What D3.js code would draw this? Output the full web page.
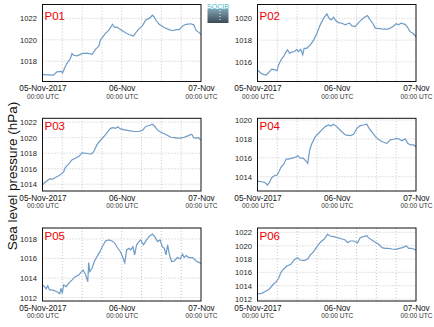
<!DOCTYPE html>
<html><head><meta charset="utf-8">
<script src="https://cdn.jsdelivr.net/npm/d3@7"></script>
<style>
html,body{margin:0;padding:0;background:#fff;}
svg{display:block;font-family:"Liberation Sans",Arial,sans-serif;}
</style></head>
<body>
<svg id="c" width="434" height="327"></svg>
<script>
// ---- data (hours since 05-Nov-2017 00:00 UTC, sea level pressure hPa) ----
const stations = ["P01","P02","P03","P04","P05","P06"];
const p01Hours = [0,3.35,4.37,5.69,6.09,6.6,7.41,8.43,8.93,9.44,10.46,11.98,13.5,15.03,16.04,17.06,17.56,19.09,20.1,21.22,21.83,22.44,23.15,24.16,25.18,26.19,27.51,28.22,29.24,30.25,31.27,32.28,33.3,33.81,34.31,35.33,36.85,38.38,39.39,40.41,41.42,42.44,43.45,44.97,45.79,46.5,47.51,48];
const p01Values = [1016.75,1016.7,1017.0,1017.05,1016.9,1017.3,1017.8,1018.25,1018.7,1018.55,1018.5,1018.7,1018.75,1018.65,1019.1,1019.4,1020.0,1020.6,1020.9,1021.45,1021.15,1021.2,1021.05,1020.85,1020.65,1020.5,1020.35,1020.65,1021.05,1021.3,1021.85,1022.0,1022.3,1022.15,1021.85,1021.45,1021.15,1020.95,1020.85,1020.95,1020.95,1021.3,1021.45,1021.5,1021.4,1020.9,1020.65,1020.5];
const p02Hours = [0,0.6,1.3,2.6,3.3,4.3,5.4,5.9,6.4,7.1,7.9,8.6,9.1,9.7,10.4,11.2,11.9,12.4,13.1,13.7,14.1,14.9,16.0,17.0,18.0,19.0,20.0,21.0,21.7,22.3,23.0,23.7,24.5,25.6,26.6,27.3,27.9,28.6,29.6,30.6,31.6,32.6,33.3,34.1,34.9,35.7,37.2,38.2,39.4,40.2,41.2,42.0,42.7,43.4,44.7,45.5,46.1,47.1,48];
const p02Values = [1015.27,1015.1,1014.9,1014.8,1015.0,1015.33,1015.27,1015.2,1015.72,1016.18,1016.5,1016.9,1017.1,1016.8,1016.9,1016.95,1017.15,1016.95,1017.15,1016.65,1017.25,1017.25,1017.56,1018.0,1018.63,1019.4,1020.0,1020.4,1020.0,1019.85,1020.1,1019.8,1019.6,1019.55,1019.4,1019.5,1019.55,1019.3,1019.24,1019.6,1019.9,1020.15,1020.25,1019.85,1019.55,1019.1,1019.05,1019.0,1019.0,1019.1,1019.3,1019.5,1019.4,1019.55,1019.45,1019.15,1018.8,1018.63,1018.3];
const p03Hours = [0,0.6,1.3,2.1,3.1,3.9,4.9,5.9,6.4,6.9,7.9,8.9,9.9,11.0,12.0,12.7,13.5,14.7,15.5,16.5,17.6,18.6,19.6,20.6,21.4,22.1,22.8,23.6,24.9,26.2,27.7,29.2,30.3,31.3,32.3,33.3,34.0,34.8,35.8,36.9,37.9,38.9,39.9,40.9,41.9,42.9,44.0,45.2,45.8,46.5,47.2,48];
const p03Values = [1013.9,1014.2,1014.43,1014.7,1014.65,1014.86,1015.1,1015.4,1015.6,1016.15,1016.6,1017.14,1017.35,1017.57,1018.08,1018.0,1017.96,1017.87,1018.2,1019.1,1019.7,1020.15,1020.7,1021.2,1021.3,1021.2,1021.4,1021.14,1021.0,1020.9,1020.8,1020.8,1020.97,1021.45,1021.57,1021.74,1021.45,1021.0,1020.7,1020.5,1020.28,1020.06,1020.0,1019.94,1019.94,1020.06,1020.24,1020.45,1020.0,1019.94,1020.0,1019.68];
const p04Hours = [0,1.3,2.3,3.0,3.6,4.3,5.1,5.9,6.5,7.1,7.9,8.7,9.4,10.1,10.9,11.7,12.2,12.9,13.9,14.7,15.2,15.8,16.5,17.5,18.5,19.5,20.5,21.5,22.2,23.0,24.0,25.3,26.6,28.1,29.1,30.1,31.1,32.1,33.1,33.9,34.9,36.0,37.2,38.2,39.2,40.2,41.2,42.2,43.0,43.7,44.7,45.5,46.3,47.3,48];
const p04Values = [1013.54,1013.47,1013.36,1013.12,1013.4,1013.9,1014.1,1014.18,1014.53,1015.0,1015.3,1015.87,1015.87,1015.94,1016.0,1016.12,1016.23,1016.0,1015.94,1015.66,1015.41,1016.83,1017.53,1018.24,1018.6,1018.95,1019.3,1019.47,1019.37,1019.55,1019.3,1018.84,1018.42,1018.35,1018.5,1019.12,1019.4,1019.47,1019.55,1019.05,1018.6,1018.13,1017.8,1017.64,1017.53,1017.9,1017.96,1018.06,1017.96,1017.8,1018.0,1017.53,1017.36,1017.36,1017.18];
const p05Hours = [0,0.6,1.1,1.6,2.1,2.8,3.9,4.6,5.2,5.6,6.0,6.4,7.2,7.9,8.9,9.9,11.0,11.7,12.3,13.0,13.7,14.0,14.3,15.0,15.7,16.5,17.4,18.1,19.1,20.1,21.1,21.9,22.8,23.6,24.2,24.9,25.5,26.2,26.7,27.4,27.9,28.5,29.2,29.7,30.6,31.3,32.3,33.3,34.0,34.8,35.6,36.3,36.9,37.4,37.9,38.4,39.1,39.9,40.9,41.7,42.4,42.9,43.5,44.3,45.5,46.5,47.5,48];
const p05Values = [1013.3,1013.13,1012.9,1013.23,1012.8,1012.8,1012.68,1012.55,1012.4,1012.96,1012.44,1013.3,1013.13,1013.47,1013.8,1014.15,1014.32,1014.6,1014.83,1014.4,1013.64,1015.6,1014.66,1015.0,1015.7,1016.2,1016.7,1017.2,1017.8,1017.9,1017.8,1017.56,1017.05,1016.7,1016.2,1015.58,1016.88,1017.05,1016.88,1017.2,1016.37,1017.4,1017.73,1017.9,1017.4,1017.8,1018.25,1018.5,1018.25,1017.73,1017.9,1017.2,1017.05,1016.37,1017.4,1016.44,1015.7,1015.75,1016.1,1015.96,1016.44,1016.1,1016.3,1016.1,1016.1,1015.75,1015.58,1015.5];
const p06Hours = [0,1.3,2.6,3.6,4.6,5.7,6.4,7.1,7.9,8.9,10.1,11.1,12.1,12.9,14.1,15.2,16.0,17.0,18.0,19.2,20.2,21.2,22.0,23.0,24.2,25.6,26.6,27.3,28.1,29.1,30.3,31.1,32.1,33.1,33.6,34.3,35.4,36.7,37.7,38.7,39.7,40.7,41.7,43.0,43.9,45.1,45.8,46.8,48];
const p06Values = [1012.75,1012.85,1013.2,1013.5,1014.1,1014.6,1015.1,1016.0,1016.5,1016.95,1017.2,1017.85,1018.2,1017.85,1017.75,1018.0,1018.6,1019.1,1019.85,1020.6,1021.0,1021.7,1021.45,1021.35,1021.2,1021.0,1020.85,1020.45,1020.7,1020.7,1020.45,1021.2,1021.35,1021.5,1021.2,1020.95,1020.6,1020.2,1019.7,1019.6,1019.6,1019.5,1019.45,1019.6,1019.7,1019.95,1019.6,1019.6,1019.3];
const yTicks = [
  [1018,1020,1022],
  [1016,1018,1020],
  [1014,1016,1018,1020,1022],
  [1014,1016,1018,1020],
  [1012,1014,1016,1018],
  [1012,1014,1016,1018,1020,1022]
];
const yDomains = [[1016.1,1023.3],[1014.2,1021.27],[1013.13,1022.5],[1012.49,1020.18],[1011.66,1019.12],[1011.7,1022.65]];
const xLabels = ["05-Nov-2017","06-Nov","07-Nov"];
const xSubLabel = "00:00 UTC";
const yTitle = "Sea level pressure (hPa)";
const allHours = [p01Hours,p02Hours,p03Hours,p04Hours,p05Hours,p06Hours];
const allValues = [p01Values,p02Values,p03Values,p04Values,p05Values,p06Values];

// ---- layout ----
const cols = [[42.5,201],[257.5,416]];
const rows = [[4.5,81.5],[118.3,191],[228,301]];
const labelOffset = [15.5,15.5,12,12,12,12];
const t0 = Date.UTC(2017,10,5);
const H = 3600*1000;
const lineColor = "#6f9bc7";

const svg = d3.select("#c");

stations.forEach((name,i)=>{
  const c = cols[i%2], r = rows[Math.floor(i/2)];
  const x = d3.scaleUtc().domain([new Date(t0), new Date(t0+48*H)]).range(c);
  const y = d3.scaleLinear().domain(yDomains[i]).range([r[1], r[0]]);
  const g = svg.append("g");
  // grid
  const gridTimes = d3.range(6,48,6).map(h=>new Date(t0+h*H));
  g.selectAll(".vg").data(gridTimes).join("line")
    .attr("x1",d=>x(d)).attr("x2",d=>x(d)).attr("y1",r[0]).attr("y2",r[1])
    .attr("stroke","#b8b8b8").attr("stroke-width",0.8).attr("stroke-dasharray","1,2");
  g.selectAll(".hg").data(yTicks[i]).join("line")
    .attr("x1",c[0]).attr("x2",c[1]).attr("y1",d=>y(d)).attr("y2",d=>y(d))
    .attr("stroke","#b8b8b8").attr("stroke-width",0.8).attr("stroke-dasharray","1,2");
  // line
  const pts = allHours[i].map((h,k)=>[new Date(t0+h*H), allValues[i][k]]);
  g.append("path").datum(pts)
    .attr("d", d3.line().x(d=>x(d[0])).y(d=>y(d[1])))
    .attr("fill","none").attr("stroke",lineColor).attr("stroke-width",1.2);
  // frame
  g.append("rect").attr("x",c[0]).attr("y",r[0]).attr("width",c[1]-c[0]).attr("height",r[1]-r[0])
    .attr("fill","none").attr("stroke","#111").attr("stroke-width",1);
  // y axis
  const ya = g.append("g").attr("transform",`translate(${c[0]},0)`)
    .call(d3.axisLeft(y).tickValues(yTicks[i]).tickSize(0).tickPadding(5.5).tickFormat(d3.format("d")));
  ya.select(".domain").remove();
  ya.selectAll("text").attr("font-size",7.6).attr("fill","#222").attr("font-family","Liberation Sans, Arial, sans-serif");
  // x axis labels
  const xa = g.append("g").attr("transform",`translate(0,${r[1]})`)
    .call(d3.axisBottom(x).tickValues([0,24,48].map(h=>new Date(t0+h*H))).tickSize(0).tickPadding(0).tickFormat((d,k)=>xLabels[k]));
  xa.select(".domain").remove();
  xa.selectAll("text").attr("font-size",8.2).attr("fill","#111").attr("dy",null).attr("y",9.5)
    .attr("font-family","Liberation Sans, Arial, sans-serif");
  xa.selectAll(".tick").append("text").text(xSubLabel).attr("y",17.3).attr("font-size",6.6)
    .attr("fill","#333").attr("text-anchor","middle").attr("font-family","Liberation Sans, Arial, sans-serif");
  // station label
  g.append("text").attr("x",c[0]+2).attr("y",r[0]+labelOffset[i]).text(name)
    .attr("fill","#ee0000").attr("font-size",11.5);
});

// y title
svg.append("text").attr("transform","translate(16.5,176) rotate(-90)")
  .attr("text-anchor","middle").attr("font-size",13.5).attr("fill","#111").text(yTitle);

// logo
const defs = svg.append("defs");
const gr = defs.append("linearGradient").attr("id","lg").attr("x1",0).attr("x2",0).attr("y1",0).attr("y2",1);
gr.append("stop").attr("offset","0%").attr("stop-color","#7fa3b4");
gr.append("stop").attr("offset","100%").attr("stop-color","#3b4a55");
svg.append("rect").attr("x",207.5).attr("y",9).attr("width",21).attr("height",14).attr("fill","url(#lg)");
svg.append("line").attr("x1",220).attr("x2",220).attr("y1",10).attr("y2",22)
  .attr("stroke","#fff").attr("stroke-width",1).attr("stroke-dasharray","1,2");
svg.append("text").attr("x",218).attr("y",8.5).attr("text-anchor","middle").attr("font-size",7)
  .attr("fill","#3fb6cc").text("SOCIB");
</script>
</body></html>
